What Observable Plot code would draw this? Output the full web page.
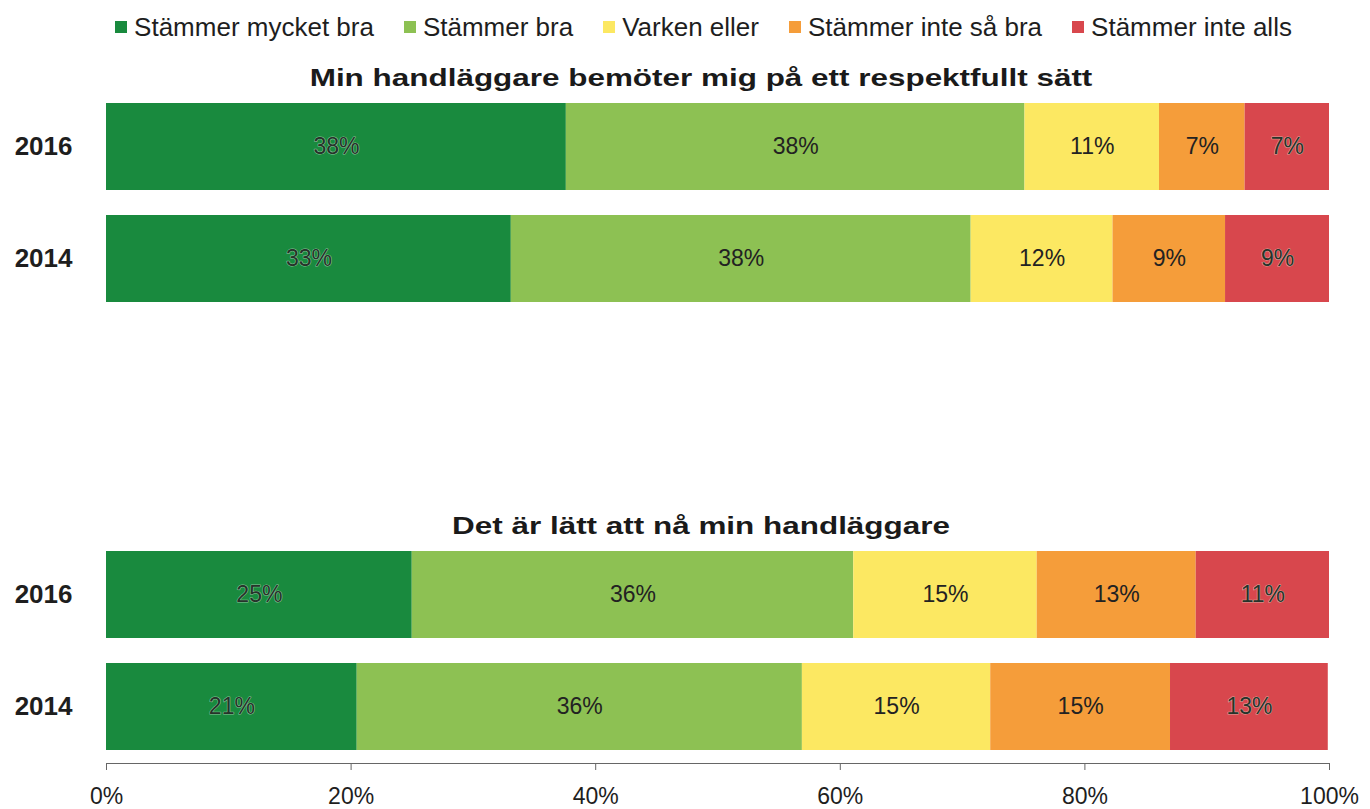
<!DOCTYPE html>
<html>
<head>
<meta charset="utf-8">
<script src="https://cdn.jsdelivr.net/npm/d3@7"></script>
<script src="https://cdn.jsdelivr.net/npm/@observablehq/plot@0.6"></script>
<style>
  html, body { margin: 0; padding: 0; background: #fff; }
  body { width: 1370px; font-family: "Liberation Sans", Arial, sans-serif; }
  #legend { height: 45px; display: flex; justify-content: center; align-items: center;
            padding-left: 37px; padding-top: 10px; box-sizing: border-box; font-size: 26px; color: #1e1e1e; }
  #legend .item { display: flex; align-items: center; margin: 0 15px; }
  #legend .sw { width: 12px; height: 12px; margin-right: 7px; margin-top: -2px; }
  #chart svg { display: block; }
</style>
</head>
<body>
<div id="legend"></div>
<div id="chart"></div>
<script>
// ---- data ----
const categories = ["Stämmer mycket bra", "Stämmer bra", "Varken eller", "Stämmer inte så bra", "Stämmer inte alls"];
const colors = ["#198a3e", "#8dc153", "#fce862", "#f59d3a", "#d8474d"];
const panels = ["Min handläggare bemöter mig på ett respektfullt sätt", "Det är lätt att nå min handläggare"];
const years = ["2016", "2014"];
const respekt2016 = [37.6, 37.5, 11.0, 7.0, 6.9];
const respekt2014 = [33.1, 37.6, 11.6, 9.2, 8.5];
const naa2016 = [25.0, 36.1, 15.0, 13.0, 10.9];
const naa2014 = [20.5, 36.4, 15.4, 14.7, 12.9];
const xTicks = [0, 20, 40, 60, 80, 100];

// styles
const haloCategories = [categories[0], categories[4]];

const series = [
  [panels[0], years[0], respekt2016],
  [panels[0], years[1], respekt2014],
  [panels[1], years[0], naa2016],
  [panels[1], years[1], naa2014]
];
const rows = series.flatMap(([panel, year, vals]) =>
  vals.map((v, i) => ({panel, year, category: categories[i], value: v})));

// ---- legend ----
const legend = d3.select("#legend");
categories.forEach((c, i) => {
  const it = legend.append("div").attr("class", "item");
  it.append("div").attr("class", "sw").style("background", colors[i]);
  it.append("span").text(c);
});

// ---- chart ----
const label = d => Math.round(d.value) + "%";
const chart = Plot.plot({
  width: 1370,
  height: 764,
  marginLeft: 106,
  marginRight: 41,
  marginTop: 46,
  marginBottom: 46,
  style: {fontFamily: "'Liberation Sans', Arial, sans-serif", background: "#fff", color: "#1e1e1e"},
  x: {domain: [0, 100], axis: null},
  y: {domain: years, paddingInner: 0.22, paddingOuter: 0.11, axis: null},
  fy: {domain: panels, paddingInner: 0.5, paddingOuter: 0, axis: null},
  color: {domain: categories, range: colors},
  marks: [
    Plot.barX(rows, Plot.stackX({x: "value", y: "year", fy: "panel", fill: "category", order: categories})),
    Plot.text(rows, Plot.stackX({
      x: "value", y: "year", fy: "panel", z: "category", order: categories,
      text: d => haloCategories.includes(d.category) ? null : label(d),
      fill: "#222", fontSize: 23
    })),
    Plot.text(rows, Plot.stackX({
      x: "value", y: "year", fy: "panel", z: "category", order: categories,
      text: d => haloCategories.includes(d.category) ? label(d) : null,
      fill: "#26332a", stroke: "#d8e6d8", strokeOpacity: 0.6, strokeWidth: 1.1, fontSize: 23
    })),
    Plot.axisY({tickSize: 0, tickPadding: 34, fontSize: 26, fontWeight: "bold", fill: "#1e1e1e", label: null}),
    Plot.axisX({anchor: "bottom", ticks: xTicks, tickFormat: d => d + "%", tickSize: 7, tickPadding: 17,
                fontSize: 23, stroke: "#666", fill: "#1e1e1e", label: null}),
    Plot.frame({anchor: "bottom", facetAnchor: "bottom", stroke: "#666"}),
    Plot.text(panels, {fy: d => d, text: d => d, frameAnchor: "top", lineAnchor: "bottom",
                       dy: -6, dx: -17, fontSize: 24, fontWeight: "bold", fill: "#1a1a1a"})
  ]
});
document.getElementById("chart").appendChild(chart);

// widen the panel titles as in the reference
d3.select(chart).selectAll("text").filter(function() { return panels.includes(this.textContent); })
  .each(function() {
    const len = this.getComputedTextLength();
    d3.select(this).attr("textLength", len * 1.31).attr("lengthAdjust", "spacingAndGlyphs");
  });
</script>
</body>
</html>
